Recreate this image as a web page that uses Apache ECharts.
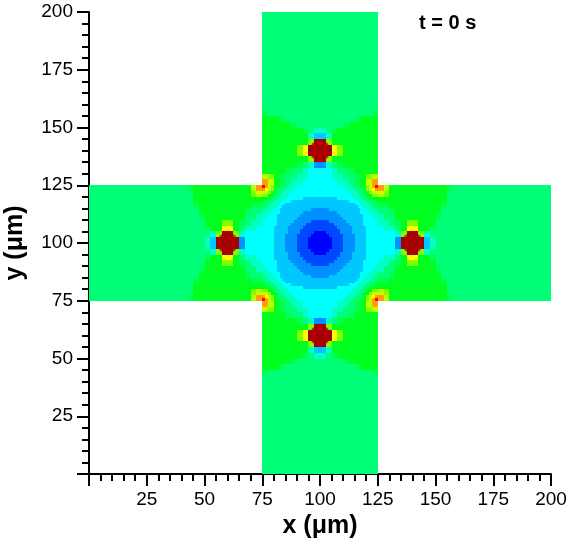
<!DOCTYPE html>
<html><head><meta charset="utf-8">
<script src="https://cdn.jsdelivr.net/npm/echarts@6/dist/echarts.min.js"></script>
<style>html,body{margin:0;padding:0;background:#fff}#c{width:579px;height:549px}</style>
</head><body><div id="c"></div>
<script>
// ---- data ----
const xTicks = [0, 25, 50, 75, 100, 125, 150, 175, 200];
const yTicks = [0, 25, 50, 75, 100, 125, 150, 175, 200];
// coarse field: 2.5 µm cells, rows from y=200 (top) down to y=0, '.' = outside channel / see junction grid
const coarseCell = 2.5;
const coarseOrigin = [0, 200];
const fieldRows = [
'..............................66666666666666666666..............................',
'..............................66666666666666666666..............................',
'..............................66666666666666666666..............................',
'..............................66666666666666666666..............................',
'..............................66666666666666666666..............................',
'..............................66666666666666666666..............................',
'..............................66666666666666666666..............................',
'..............................66666666666666666666..............................',
'..............................66666666666666666666..............................',
'..............................66666666666666666666..............................',
'..............................66666666666666666666..............................',
'..............................66666666666666666666..............................',
'..............................66666666666666666666..............................',
'..............................66666666666666666666..............................',
'..............................66666666666666666666..............................',
'..............................66666666666666666666..............................',
'..............................66666666666666666666..............................',
'..............................76666666666666666667..............................',
'..............................88876666666666667888..............................',
'..............................88888766666666788888..............................',
'..............................88888887655678888888..............................',
'..............................88888888533588888888..............................',
'..............................888888889ff988888888..............................',
'..............................8888889bffffb9888888..............................',
'..............................8888889bffffb9888888..............................',
'..............................888888889ff988888888..............................',
'..............................88888876522567888888..............................',
'..............................88887665444456678888..............................',
'..............................a987665544445566789a..............................',
'..............................ca8765544444455678ac..............................',
'6666666666666666678888888888ac'+'....................'+'ca8888888888766666666666666666',
'66666666666666666688888888889a'+'....................'+'a98888888888666666666666666666',
'666666666666666666888888888888'+'....................'+'888888888888666666666666666666',
'666666666666666666788888888877'+'....................'+'778888888887666666666666666666',
'666666666666666666688888888766'+'....................'+'667888888886666666666666666666',
'666666666666666666678888888665'+'....................'+'566888888876666666666666666666',
'666666666666666666668889987655'+'....................'+'556789988866666666666666666666',
'66666666666666666666788bb86554'+'....................'+'45568bb88766666666666666666666',
'66666666666666666666659ff95444'+'....................'+'44459ff95666666666666666666666',
'6666666666666666666653ffff2444'+'....................'+'4442ffff3566666666666666666666',
'6666666666666666666653ffff2444'+'....................'+'4442ffff3566666666666666666666',
'66666666666666666666659ff95444'+'....................'+'44459ff95666666666666666666666',
'66666666666666666666788bb86554'+'....................'+'45568bb88766666666666666666666',
'666666666666666666668889987655'+'....................'+'556789988866666666666666666666',
'666666666666666666678888888665'+'....................'+'566888888876666666666666666666',
'666666666666666666688888888766'+'....................'+'667888888886666666666666666666',
'666666666666666666788888888877'+'....................'+'778888888887666666666666666666',
'666666666666666666888888888888'+'....................'+'888888888888666666666666666666',
'66666666666666666688888888889a'+'....................'+'a98888888888666666666666666666',
'6666666666666666678888888888ac'+'....................'+'ca8888888888766666666666666666',
'..............................ca8765544444455678ac..............................',
'..............................a987665544445566789a..............................',
'..............................88887665444456678888..............................',
'..............................88888876522567888888..............................',
'..............................888888889ff988888888..............................',
'..............................8888889bffffb9888888..............................',
'..............................8888889bffffb9888888..............................',
'..............................888888889ff988888888..............................',
'..............................88888888533588888888..............................',
'..............................88888887655678888888..............................',
'..............................88888766666666788888..............................',
'..............................88876666666666667888..............................',
'..............................76666666666666666667..............................',
'..............................66666666666666666666..............................',
'..............................66666666666666666666..............................',
'..............................66666666666666666666..............................',
'..............................66666666666666666666..............................',
'..............................66666666666666666666..............................',
'..............................66666666666666666666..............................',
'..............................66666666666666666666..............................',
'..............................66666666666666666666..............................',
'..............................66666666666666666666..............................',
'..............................66666666666666666666..............................',
'..............................66666666666666666666..............................',
'..............................66666666666666666666..............................',
'..............................66666666666666666666..............................',
'..............................66666666666666666666..............................',
'..............................66666666666666666666..............................',
'..............................66666666666666666666..............................',
'..............................66666666666666666666..............................'
];
// junction field (x 75..125, y 125..75): 1.25 µm cells
const junctionCell = 1.25;
const junctionOrigin = [75, 125];
const junctionRows = [
'eca98866655544444444'+'44444444555666889ace',
'cba98666555444444444'+'44444444455566689abc',
'aa988665554444444444'+'444444444455566889aa',
'99886655544444444444'+'44444444444555668899',
'88866555444444333333'+'33333344444455566888',
'86665554443333333333'+'33333333334445556668',
'66655544333333333333'+'33333333333344555666',
'66555443333333333333'+'33333333333334455566',
'65554433333333333222'+'22233333333333445556',
'55544433333333222222'+'22222233333333444555',
'55444333333332222222'+'22222223333333344455',
'54444333333322222222'+'22222222333333344445',
'44444333333222222111'+'11122222233333344444',
'44444333332222211111'+'11111222223333344444',
'44443333322222111111'+'11111122222333334444',
'44443333322221111111'+'11111112222333334444',
'44443333322221111100'+'00111112222333334444',
'44443333222211111000'+'00011111222233334444',
'44443333222211110000'+'00001111222233334444',
'44443333222211110000'+'00001111222233334444',
'44443333222211110000'+'00001111222233334444',
'44443333222211110000'+'00001111222233334444',
'44443333222211111000'+'00011111222233334444',
'44443333322221111100'+'00111112222333334444',
'44443333322221111111'+'11111112222333334444',
'44443333322222111111'+'11111122222333334444',
'44444333332222211111'+'11111222223333344444',
'44444333333222222111'+'11122222233333344444',
'54444333333322222222'+'22222222333333344445',
'55444333333332222222'+'22222223333333344455',
'55544433333333222222'+'22222233333333444555',
'65554433333333333222'+'22233333333333445556',
'66555443333333333333'+'33333333333334455566',
'66655544333333333333'+'33333333333344555666',
'86665554443333333333'+'33333333334445556668',
'88866555444444333333'+'33333344444455566888',
'99886655544444444444'+'44444444444555668899',
'aa988665554444444444'+'444444444455566889aa',
'cba98666555444444444'+'44444444455566689abc',
'eca98866655544444444'+'44444444555666889ace'
];
const electrodeX = [100, 60, 140, 100];
const electrodeY = [140, 100, 100, 60];
const timeLabel = 't = 0 s';
const xName = 'x (μm)';
const yName = 'y (μm)';

// ---- styles ----
const palette = ['#0000ff','#0048ff','#0090ff','#00c8ff','#00ffff','#00ffc0','#00ff78','#00ff50',
                 '#00ff20','#80ff00','#c0ff00','#ffff00','#ffa000','#ff3000','#ff0000','#a80000'];
const FONT = '"Liberation Sans", Arial, Helvetica, sans-serif';

const cells = [];
function addGrid(rows, origin, size) {
  rows.forEach((row, r) => {
    for (let c = 0; c < row.length; c++) {
      const ch = row[c];
      if (ch === '.') continue;
      cells.push([origin[0] + (c + 0.5) * size, origin[1] - (r + 0.5) * size, parseInt(ch, 16), size]);
    }
  });
}
addGrid(fieldRows, coarseOrigin, coarseCell);
addGrid(junctionRows, junctionOrigin, junctionCell);
const electrodes = electrodeX.map((x, i) => [x, electrodeY[i]]);

function renderCell(params, api) {
  const x = api.value(0), y = api.value(1), lv = api.value(2), s = api.value(3) / 2;
  const a = api.coord([x - s, y + s]);
  const b = api.coord([x + s, y - s]);
  const x0 = Math.round(a[0]), y0 = Math.round(a[1]);
  const x1 = Math.round(b[0]), y1 = Math.round(b[1]);
  return { type: 'rect', silent: true,
    shape: { x: x0, y: y0, width: x1 - x0, height: y1 - y0 },
    style: { fill: palette[lv] } };
}

const axisCommon = {
  type: 'value', interval: 25, nameLocation: 'middle',
  nameTextStyle: { fontSize: 25, fontWeight: 'bold', color: '#000', fontFamily: FONT },
  axisLine: { show: true, onZero: false, lineStyle: { color: '#000', width: 2 } },
  axisTick: { show: true, inside: false, length: 12, lineStyle: { color: '#000', width: 2 } },
  minorTick: { show: true, splitNumber: 5, length: 7, lineStyle: { color: '#000', width: 2 } },
  splitLine: { show: false },
  axisLabel: { fontSize: 19, color: '#000', fontFamily: FONT, margin: 16,
    formatter: v => (v === 0 ? '' : String(v)) }
};

const chart = echarts.init(document.getElementById('c'), null, { renderer: 'canvas' });
chart.setOption({
  animation: false,
  backgroundColor: '#fff',
  title: { text: timeLabel, left: 414, top: 8,
    textStyle: { fontSize: 20, fontWeight: 'bold', color: '#000', fontFamily: FONT } },
  grid: { left: 89, top: 12, width: 462, height: 462, containLabel: false, outerBoundsMode: 'none' },
  xAxis: Object.assign({}, axisCommon, { min: xTicks[0], max: xTicks[xTicks.length - 1], name: xName, nameGap: 31 }),
  yAxis: Object.assign({}, axisCommon, { min: yTicks[0], max: yTicks[yTicks.length - 1], name: yName, nameGap: 61 }),
  series: [
    { type: 'custom', data: cells, renderItem: renderCell, encode: { x: 0, y: 1 },
      dimensions: ['x', 'y', 'level', 'size'], progressive: 0, silent: true, z: 1 },
    { type: 'scatter', data: electrodes, symbol: 'circle', symbolSize: 21,
      itemStyle: { color: '#a80000' }, silent: true, z: 3 }
  ]
});
</script>
</body></html>
